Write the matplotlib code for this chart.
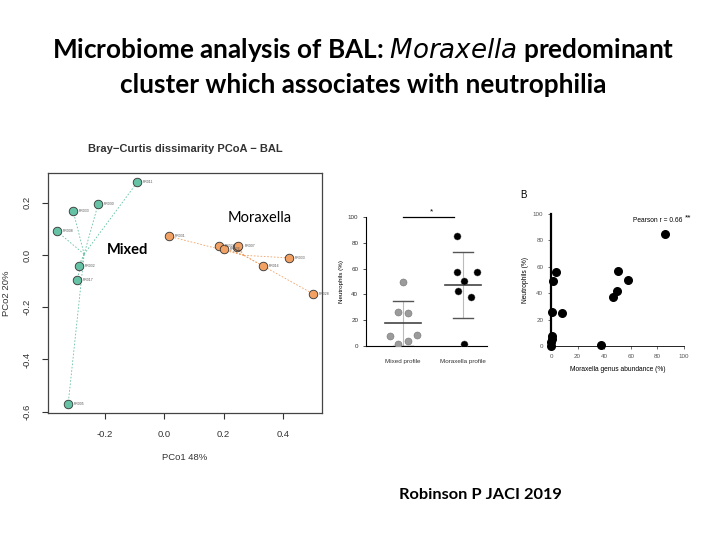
import numpy as np
import matplotlib
matplotlib.use("Agg")
import matplotlib.pyplot as plt

# ---- data ----
# PCoA (Bray-Curtis), BAL samples
mixed_ids = ["PR011", "PR030", "PR033", "PR008", "PR032", "PR017", "PR005"]
mixed_x = [-0.092, -0.224, -0.308, -0.363, -0.290, -0.295, -0.325]
mixed_y = [0.278, 0.194, 0.168, 0.091, -0.042, -0.095, -0.571]

morax_ids = ["PR031", "PR024", "PR026", "PR009", "PR007", "PR033", "PR016", "PR028"]
morax_x = [0.014, 0.183, 0.200, 0.244, 0.250, 0.420, 0.333, 0.502]
morax_y = [0.072, 0.034, 0.023, 0.030, 0.033, -0.011, -0.042, -0.149]

# neutrophils by cluster
groups = ["Mixed profile", "Moraxella profile"]
neut_mixed = [49.7, 26.3, 25.3, 7.7, 8.2, 3.9, 1.3]
neut_morax = [85.3, 57.5, 57.0, 50.5, 42.5, 37.6, 1.5]
jitter_mixed = [0.0, -0.09, 0.08, -0.22, 0.24, 0.08, -0.09]
jitter_morax = [-0.1, -0.1, 0.23, 0.01, -0.08, 0.13, 0.01]

# correlation panel
abund = [85.7, 58.1, 50.6, 49.9, 46.4, 37.6, 8.5, 3.5, 1.75, 1.0, 1.0, 0.5, 0.3, 0.0]
neut = [84.8, 50.1, 57.0, 42.0, 37.2, 0.8, 25.3, 56.2, 49.1, 25.8, 7.8, 5.3, 2.8, 0.3]

green = "#66c2a5"
orange = "#f2a164"

plt.rcParams["font.family"] = ["Liberation Sans", "DejaVu Sans"]
fig = plt.figure(figsize=(7.2, 5.4), dpi=100)
W, H = 720.0, 540.0


def box(l, t, r, b):
    return [l / W, 1 - b / H, (r - l) / W, (b - t) / H]


# slide title
fig.text(0.505, 1 - 50 / H,
         r"Microbiome analysis of BAL: $\mathit{Moraxella}$ predominant",
         ha="center", va="center", fontsize=18.8, fontweight="bold",
         family="Lato")
fig.text(0.505, 1 - 85 / H, "cluster which associates with neutrophilia",
         ha="center", va="center", fontsize=18.8, fontweight="bold",
         family="Lato")
fig.text(480 / W, 1 - 495 / H, "Robinson P JACI 2019", ha="center",
         va="center", fontsize=11.8, fontweight="bold", family="Lato")

# ---- PCoA panel ----
ax = fig.add_axes(box(48, 173, 322, 413))
for xs, ys, ids, col in [(mixed_x, mixed_y, mixed_ids, green),
                         (morax_x, morax_y, morax_ids, orange)]:
    cx, cy = np.mean(xs), np.mean(ys)
    for x, y in zip(xs, ys):
        ax.plot([cx, x], [cy, y], ls=(0, (2, 2)), lw=0.6, color=col, zorder=1)
    ax.scatter(xs, ys, s=38, color=col, edgecolors="#333333", linewidths=0.6,
               zorder=3)
    for x, y, n in zip(xs, ys, ids):
        if n == "PR009":
            continue
        ax.text(x + 0.02, y, n, fontsize=2.5, color="#555555", va="center")

ax.set_xlim(-0.393, 0.532)
ax.set_ylim(-0.605, 0.314)
ax.set_xticks([-0.2, 0.0, 0.2, 0.4])
ax.set_yticks([-0.6, -0.4, -0.2, 0.0, 0.2])
ax.set_xticklabels(["-0.2", "0.0", "0.2", "0.4"])
ax.set_yticklabels(["-0.6", "-0.4", "-0.2", "0.0", "0.2"], rotation=90,
                   va="center")
ax.tick_params(labelsize=6.8, colors="#333333", length=4, width=0.8, pad=8)
for s in ax.spines.values():
    s.set_color("#444444")
    s.set_linewidth(0.9)
ax.set_xlabel("PCo1 48%", fontsize=6.8, color="#333333", labelpad=10)
ax.set_ylabel("PCo2 20%", fontsize=6.8, color="#333333", labelpad=8)
ax.set_title("Bray\u2212Curtis dissimarity PCoA \u2212 BAL", fontsize=8,
             fontweight="bold", color="#333333", pad=15)
ax.text(0.214, 0.141, "Moraxella", fontsize=10.5, family="Lato",
        va="center")
ax.text(-0.193, 0.019, "Mixed", fontsize=10.5, family="Lato",
        fontweight="bold", va="center")

# ---- neutrophils by cluster ----
ax2 = fig.add_axes(box(366, 217, 487, 346))
for i, (vals, jit, col) in enumerate([(neut_mixed, jitter_mixed, "#9b9b9b"),
                                       (neut_morax, jitter_morax, "black")]):
    m, sd = np.mean(vals), np.std(vals, ddof=1)
    ax2.plot([i, i], [max(m - sd, 0), m + sd], color="#bbbbbb", lw=0.8,
             zorder=1)
    ax2.plot([i - 0.3, i + 0.3], [m, m], color="#444444", lw=1.2, zorder=2)
    for v in (m - sd, m + sd):
        if v > 0:
            ax2.plot([i - 0.17, i + 0.17], [v, v], color="#555555", lw=1.0)
    ax2.scatter(np.array(jit) + i, vals, s=26, color=col,
                edgecolors="#666666", linewidths=0.3, zorder=3)
ax2.plot([0, 0.85], [100, 100], color="black", lw=0.9, clip_on=False)
ax2.text(0.47, 101, "*", ha="center", va="bottom", fontsize=6)
ax2.set_xlim(-0.617, 1.4)
ax2.set_ylim(0, 100)
ax2.set_yticks([0, 20, 40, 60, 80, 100])
ax2.set_xticks([0, 1])
ax2.set_xticklabels(groups)
ax2.tick_params(labelsize=4.5, colors="#333333", length=2, width=0.6)
ax2.tick_params(axis="x", length=0, pad=9)
ax2.spines["top"].set_visible(False)
ax2.spines["right"].set_visible(False)
ax2.set_ylabel("Neutrophils (%)", fontsize=4.5, labelpad=3)

# ---- correlation panel ----
ax3 = fig.add_axes(box(551, 214, 684, 346))
ax3.scatter(abund, neut, s=30, color="black", zorder=3, clip_on=False)
ax3.set_xlim(0, 100)
ax3.set_ylim(0, 100)
ax3.set_xticks([0, 20, 40, 60, 80, 100])
ax3.set_yticks([0, 20, 40, 60, 80, 100])
ax3.tick_params(labelsize=4.5, colors="#555555", length=2, width=0.6)
ax3.spines["top"].set_visible(False)
ax3.spines["right"].set_visible(False)
ax3.spines["left"].set_linewidth(1.6)
ax3.spines["bottom"].set_linewidth(0.6)
ax3.set_xlabel("Moraxella genus abundance (%)", fontsize=4.8, labelpad=5)
ax3.set_ylabel("Neutrophils (%)", fontsize=4.8, labelpad=3)
ax3.text(99, 95, "Pearson r = 0.66", fontsize=4.8, ha="right", va="center")
ax3.text(101, 97, "**", fontsize=6, ha="left", va="center")
fig.text(520 / W, 1 - 198 / H, "B", fontsize=7)

fig.savefig("out.png", dpi=100)
